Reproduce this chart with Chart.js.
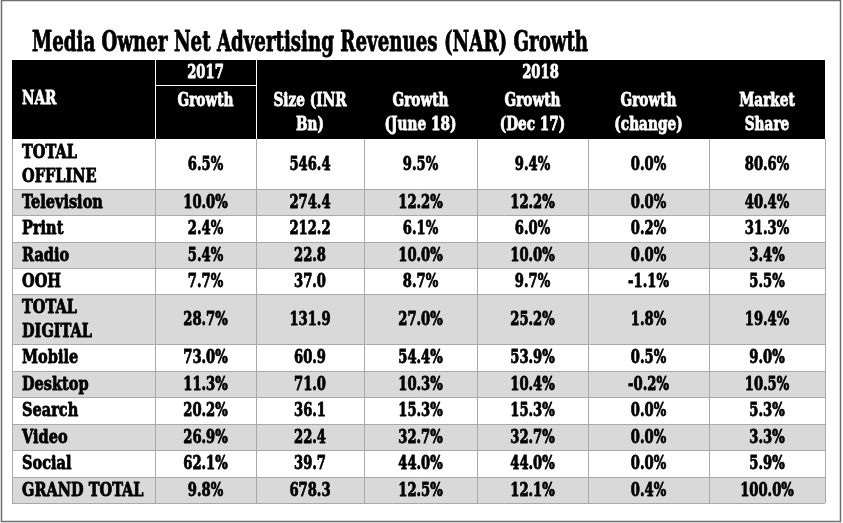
<!DOCTYPE html>
<html>
<head>
<meta charset="utf-8">
<script src="https://cdn.jsdelivr.net/npm/chart.js@4.4.1/dist/chart.umd.min.js"></script>
<style>
  html, body { margin: 0; padding: 0; background: #fff; }
  canvas { display: block; }
</style>
</head>
<body>
<canvas id="narTable" width="843" height="523"></canvas>
<script>
// ── Data ─────────────────────────────────────────────────────────────
const chartTitle   = 'Media Owner Net Advertising Revenues (NAR) Growth';
const yearLabels   = ['2017', '2018'];
const colHeaders   = ['NAR', 'Growth', 'Size (INR\nBn)', 'Growth\n(June 18)', 'Growth\n(Dec 17)', 'Growth\n(change)', 'Market\nShare'];
const categories   = ['TOTAL\nOFFLINE', 'Television', 'Print', 'Radio', 'OOH', 'TOTAL\nDIGITAL',
                      'Mobile', 'Desktop', 'Search', 'Video', 'Social', 'GRAND TOTAL'];
const growth2017   = [6.5, 10.0, 2.4, 5.4, 7.7, 28.7, 73.0, 11.3, 20.2, 26.9, 62.1, 9.8];
const sizeInrBn    = [546.4, 274.4, 212.2, 22.8, 37.0, 131.9, 60.9, 71.0, 36.1, 22.4, 39.7, 678.3];
const growthJun18  = [9.5, 12.2, 6.1, 10.0, 8.7, 27.0, 54.4, 10.3, 15.3, 32.7, 44.0, 12.5];
const growthDec17  = [9.4, 12.2, 6.0, 10.0, 9.7, 25.2, 53.9, 10.4, 15.3, 32.7, 44.0, 12.1];
const growthChange = [0.0, 0.0, 0.2, 0.0, -1.1, 1.8, 0.5, -0.2, 0.0, 0.0, 0.0, 0.4];
const marketShare  = [80.6, 40.4, 31.3, 3.4, 5.5, 19.4, 9.0, 10.5, 5.3, 3.3, 5.9, 100.0];

// ── Layout (scale units, not data) ───────────────────────────────────
const colWidths   = [143, 101, 108, 112, 111, 121, 116];
const headerUnits = 2.98;   // header block height in row units
const yearUnits   = 0.94;   // the "2017" / "2018" band
const lineUnits   = 0.88;   // extra height per wrapped line
const FONT = "'DejaVu Serif Condensed', 'DejaVu Serif', serif";
const BODY_SIZE = 19, BODY_SQUEEZE = 0.77;
const LABEL_SQUEEZE = 0.85, HEAD_SQUEEZE = 0.8;
const TITLE_SIZE = 27, TITLE_SQUEEZE = 0.75;

const pct = v => v.toFixed(1) + '%';
const columns = [
  categories,
  growth2017.map(pct),
  sizeInrBn.map(v => v.toFixed(1)),
  growthJun18.map(pct),
  growthDec17.map(pct),
  growthChange.map(pct),
  marketShare.map(pct),
];

const colEdges = [0];
colWidths.forEach(w => colEdges.push(colEdges[colEdges.length - 1] + w));
const rowEdges = [headerUnits];
categories.forEach(c => {
  const lines = c.split('\n').length;
  rowEdges.push(rowEdges[rowEdges.length - 1] + 1 + (lines - 1) * lineUnits);
});

// ── Text helper ──────────────────────────────────────────────────────
// Heavy, squeezed slab text (fill + thin stroke to fatten the strokes)
function drawText(ctx, txt, x, y, align, color, squeeze = BODY_SQUEEZE, size = BODY_SIZE) {
  ctx.save();
  ctx.font = `bold ${size}px ${FONT}`;
  ctx.fillStyle = color;
  ctx.strokeStyle = color;
  ctx.lineWidth = 0.8;
  ctx.lineJoin = 'round';
  ctx.textBaseline = 'middle';
  ctx.textAlign = align;
  ctx.translate(x, y);
  ctx.scale(squeeze, 1);
  ctx.fillText(txt, 0, 0);
  ctx.strokeText(txt, 0, 0);
  ctx.restore();
}

function drawLines(ctx, txt, x, yMid, align, color, gap, squeeze) {
  const lines = txt.split('\n');
  const y0 = yMid - (lines.length - 1) * gap / 2;
  lines.forEach((l, i) => drawText(ctx, l, x, y0 + i * gap, align, color, squeeze));
}

// ── Table plugin: every cell placed through the chart's x/y scales ──
const tablePlugin = {
  id: 'narTable',
  beforeDraw(chart) {
    const { ctx } = chart;
    ctx.save();
    ctx.fillStyle = '#fff';
    ctx.fillRect(0, 0, chart.width, chart.height);
    // outer photo frame
    ctx.strokeStyle = '#6e6e6e';
    ctx.lineWidth = 1.5;
    ctx.strokeRect(1.5, 0.5, chart.width - 4, chart.height - 2);
    ctx.restore();
    drawText(ctx, chartTitle, 32, 44, 'left', '#000', TITLE_SQUEEZE, TITLE_SIZE);
  },
  afterDraw(chart) {
    const { ctx } = chart;
    const xs = chart.scales.x, ys = chart.scales.y;
    const X = v => Math.round(xs.getPixelForValue(v));
    const Y = v => Math.round(ys.getPixelForValue(v));
    const left = X(0), right = X(colEdges[colEdges.length - 1]);
    const gap = 24;

    ctx.save();
    // header block
    ctx.fillStyle = '#000';
    ctx.fillRect(left, Y(0), right - left, Y(headerUnits) - Y(0));

    // body row fills (alternating)
    categories.forEach((c, r) => {
      ctx.fillStyle = r % 2 ? '#d9d9d9' : '#fff';
      ctx.fillRect(left, Y(rowEdges[r]), right - left, Y(rowEdges[r + 1]) - Y(rowEdges[r]));
    });

    // body grid
    ctx.strokeStyle = '#a9a9a9';
    ctx.lineWidth = 1;
    ctx.beginPath();
    rowEdges.forEach((e, i) => {
      if (i === 0) return;
      ctx.moveTo(left, Y(e) + 0.5); ctx.lineTo(right, Y(e) + 0.5);
    });
    colEdges.forEach(e => {
      ctx.moveTo(X(e) + 0.5, Y(headerUnits)); ctx.lineTo(X(e) + 0.5, Y(rowEdges[rowEdges.length - 1]));
    });
    ctx.stroke();

    // header white rules around the 2017 group
    ctx.strokeStyle = '#fff';
    ctx.beginPath();
    [colEdges[1], colEdges[2]].forEach(e => {
      ctx.moveTo(X(e) + 0.5, Y(0)); ctx.lineTo(X(e) + 0.5, Y(headerUnits));
    });
    ctx.moveTo(X(colEdges[1]), Y(yearUnits) + 0.5); ctx.lineTo(X(colEdges[2]), Y(yearUnits) + 0.5);
    ctx.stroke();
    ctx.restore();

    // header text
    const yearMid = (Y(0) + Y(yearUnits)) / 2 + 1;
    drawText(ctx, yearLabels[0], (X(colEdges[1]) + X(colEdges[2])) / 2, yearMid, 'center', '#fff');
    drawText(ctx, yearLabels[1], (X(colEdges[2]) + X(colEdges[7])) / 2, yearMid, 'center', '#fff');
    const hdrLine1 = Y(yearUnits) + 16;
    colHeaders.forEach((h, c) => {
      if (c === 0) {
        drawText(ctx, h, X(0) + 10, (Y(0) + Y(headerUnits)) / 2, 'left', '#fff', HEAD_SQUEEZE);
        return;
      }
      h.split('\n').forEach((l, i) =>
        drawText(ctx, l, (X(colEdges[c]) + X(colEdges[c + 1])) / 2, hdrLine1 + i * gap, 'center', '#fff', HEAD_SQUEEZE));
    });

    // body text
    columns.forEach((col, c) => {
      col.forEach((txt, r) => {
        const yMid = (Y(rowEdges[r]) + Y(rowEdges[r + 1])) / 2 + 1;
        if (c === 0) drawLines(ctx, txt, X(0) + 10, yMid, 'left', '#000', gap, LABEL_SQUEEZE);
        else drawLines(ctx, txt, (X(colEdges[c]) + X(colEdges[c + 1])) / 2, yMid, 'center', '#000', gap, BODY_SQUEEZE);
      });
    });
  },
};

new Chart(document.getElementById('narTable'), {
  type: 'scatter',
  data: { datasets: [{ data: [], pointRadius: 0 }] },
  options: {
    responsive: false,
    animation: false,
    events: [],
    layout: { padding: { left: 12, right: 18, top: 60, bottom: 20 } },
    plugins: { legend: { display: false }, tooltip: { enabled: false }, title: { display: false } },
    scales: {
      x: { type: 'linear', display: false, min: 0, max: colEdges[colEdges.length - 1] },
      y: { type: 'linear', display: false, min: 0, max: rowEdges[rowEdges.length - 1], reverse: true },
    },
  },
  plugins: [tablePlugin],
});
</script>
</body>
</html>
